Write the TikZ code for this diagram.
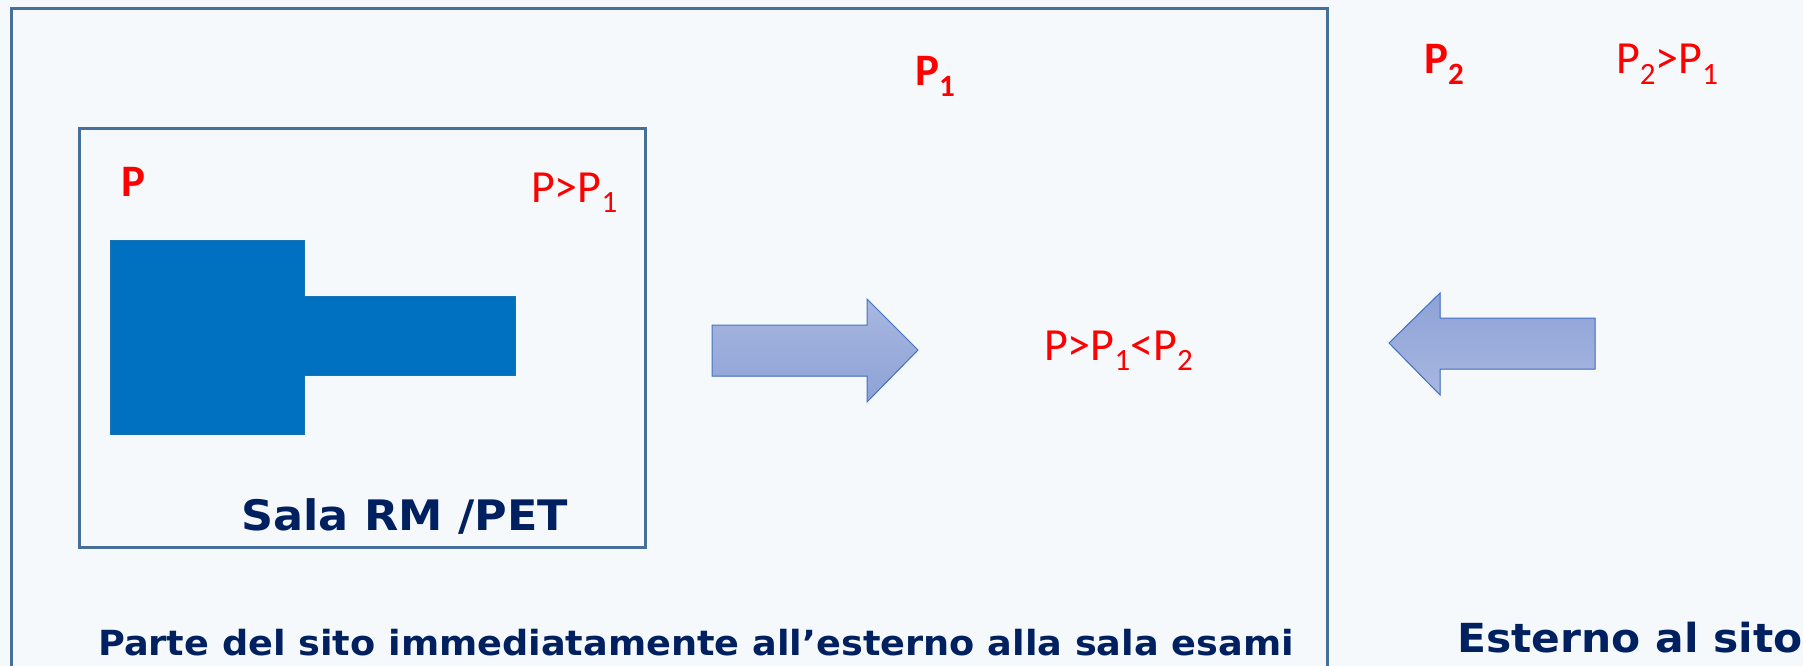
\documentclass[tikz,border=0pt]{standalone}
\usepackage{fontspec}
\usepackage{tikz}
\usetikzlibrary{positioning}
\newfontfamily\calibri{Carlito}
\newfontfamily\verdana[FakeStretch=1.06]{DejaVu Sans}
\definecolor{bgcol}{HTML}{F5F9FC}
\definecolor{wallcol}{HTML}{46709A}
\definecolor{navy}{HTML}{002060}
\definecolor{machinecol}{HTML}{0070C0}
\definecolor{flowline}{HTML}{4472C4}
\definecolor{flowlight}{HTML}{A8B7E1}
\definecolor{flowdark}{HTML}{8DA2D6}
\newcommand{\psub}[1]{\raisebox{-10.5pt}{\fontsize{31}{33}\selectfont #1}}

\begin{document}
\begin{tikzpicture}[x=1pt,y=-1pt,
    press/.style={text=red,inner sep=0pt,anchor=base west,font=\calibri\fontsize{46}{50}\selectfont},
    pressb/.style={press,font=\calibri\bfseries\fontsize{45}{49}\selectfont},
    roomlabel/.style={text=navy,inner sep=0pt,anchor=base west,font=\verdana\bfseries\fontsize{42}{46}\selectfont},
    sitelabel/.style={roomlabel,font=\verdana\bfseries\fontsize{34.6}{38}\selectfont},
    wall/.style={draw=wallcol,line width=3pt},
    flowright/.style={draw=flowline,line width=1pt,top color=flowlight,bottom color=flowdark},
    flowleft/.style={draw=flowline,line width=1pt,top color=flowdark,bottom color=flowlight}]
    \fill[bgcol] (0,0) rectangle (1803,666);
    \useasboundingbox (0,0) rectangle (1803,666);

    \draw[wall] (11,9) rectangle (1327,667);
    \draw[wall] (79,129) rectangle (645,547);

    \filldraw[fill=machinecol,draw=machinecol!80!gray,line width=1pt]
        (110,240) -- (304,240) -- (304,296) -- (515,296) -- (515,375)
        -- (304,375) -- (304,434) -- (110,434) -- cycle;

    \filldraw[flowright] (712,325) -- (867,325) -- (867,299) -- (918,350)
        -- (867,402) -- (867,376) -- (712,376) -- cycle;
    \filldraw[flowleft] (1595,318) -- (1440,318) -- (1440,293) -- (1389,343)
        -- (1440,395) -- (1440,369) -- (1595,369) -- cycle;

    \node[pressb] (pin) at (121,196) {P};
    \node[press] (pinrel) at (531,202) {P>P\psub{1}};
    \node[pressb] (pone) at (915,86) {P\psub{1}};
    \node[pressb] (ptwo) at (1424,74) {P\psub{2}};
    \node[press] (ptworel) at (1616,74) {P\psub{2}>P\psub{1}};
    \node[press] (pmid) at (1044,360) {P>P\psub{1}<P\psub{2}};

    \node[roomlabel] (sala) at (241,530) {Sala RM /PET};
    \node[sitelabel] (parte) at (98,655) {Parte del sito immediatamente all’esterno alla sala esami};
    \node[roomlabel,font=\verdana\bfseries\fontsize{40}{44}\selectfont] (esterno) at (1457,652) {Esterno al sito};
\end{tikzpicture}
\end{document}
